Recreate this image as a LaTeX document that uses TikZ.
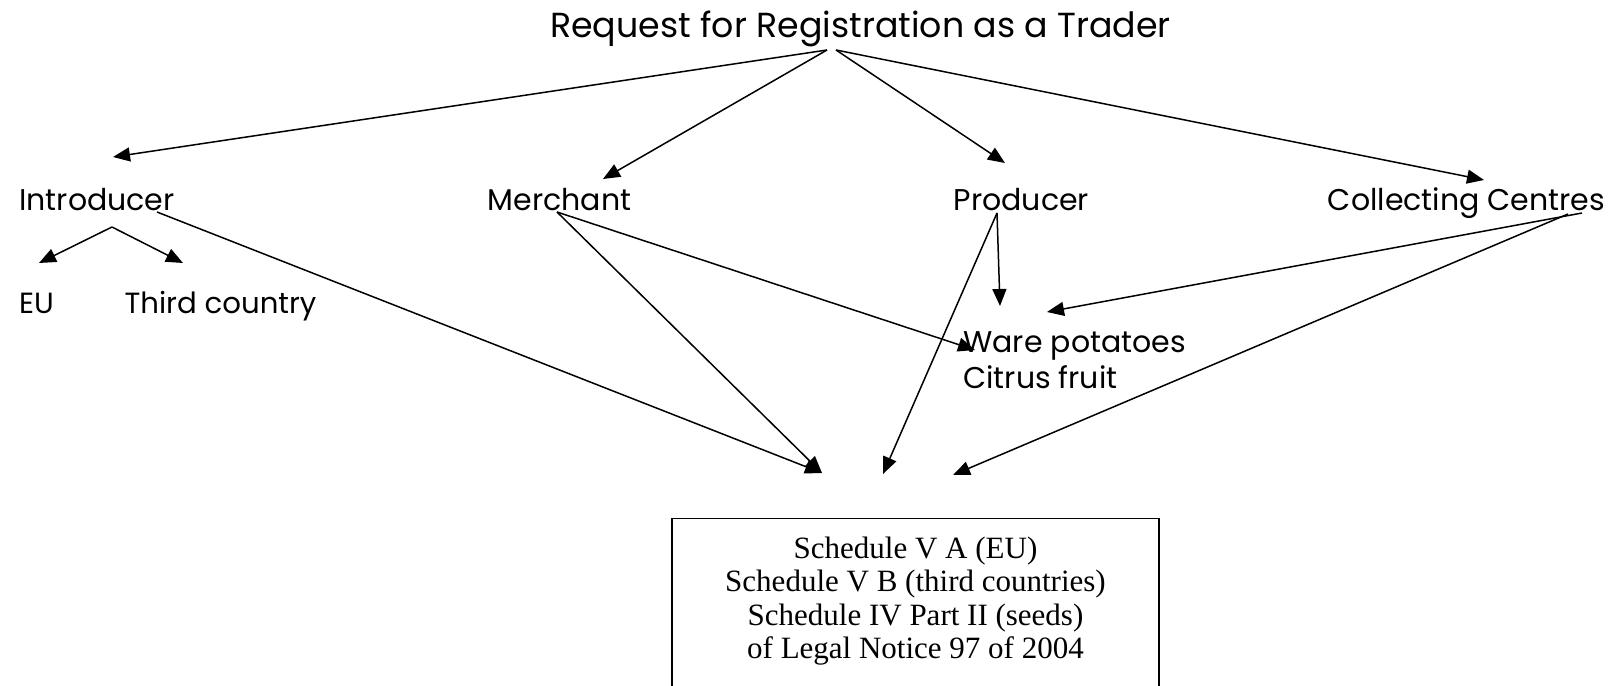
\documentclass[tikz,border=0pt]{standalone}
\usepackage{fontspec}
\setmainfont{Liberation Serif}
\newfontfamily\termfont{Poppins}
\usetikzlibrary{arrows.meta, positioning}

\begin{document}
\begin{tikzpicture}[
		x=0.5pt, y=-0.5pt,
		term/.style={font=\termfont\fontsize{15}{18}\selectfont, inner sep=0pt, anchor=base},
		arrow/.style={-{Triangle[length=8.5pt, width=7pt]}, line width=0.75pt}
		]
		\useasboundingbox (0,0) rectangle (1616,685);
		
		% Request
		\node[term, font=\termfont\fontsize{17.4}{20}\selectfont] (req) at (860.5,37) {Request for Registration as a Trader};
		
		% Traders
		\node[term] (intro) at (97,210) {Introducer};
		\node[term] (merch) at (559.5,210) {Merchant};
		\node[term] (prod) at (1021.5,210) {Producer};
		\node[term] (coll) at (1466.5,210) {Collecting Centres};
		
		% Origin of goods
		\node[term, font=\termfont\fontsize{14.6}{18}\selectfont] (eu) at (36.5,313) {EU};
		\node[term, font=\termfont\fontsize{14.6}{18}\selectfont] (third) at (220.5,313) {Third country};
		
		% Products
		\node[term, anchor=base west] (ware) at (963,352) {Ware potatoes};
		\node[term, anchor=base west] (citrus) at (963,388) {Citrus fruit};
		
		% Schedules
		\node (sched) [draw, line width=0.65pt, anchor=north, minimum width=243.5pt, inner ysep=9pt, text depth=40pt, align=center, font=\fontsize{15.5}{16.75}\selectfont] at (915.5,518) {Schedule V A (EU)\\Schedule V B (third countries)\\Schedule IV Part II (seeds)\\of Legal Notice 97 of 2004};
		
		% Arrow ends
		\coordinate (reqL) at (827,50);
		\coordinate (reqR) at (836,50);
		\coordinate (introIn) at (113,157);
		\coordinate (merchIn) at (603,179);
		\coordinate (prodIn) at (1005,163);
		\coordinate (collIn) at (1484,180);
		\coordinate (introOut) at (157,212);
		\coordinate (introFork) at (112,227);
		\coordinate (euIn) at (39,263);
		\coordinate (thirdIn) at (183,263);
		\coordinate (merchOut) at (557,212);
		\coordinate (prodOut) at (997,213);
		\coordinate (collOut) at (1582,213);
		\coordinate (collOutB) at (1568,214);
		\coordinate (wareInM) at (975,350);
		\coordinate (wareInP) at (1000,306);
		\coordinate (wareInC) at (1047,312);
		\coordinate (schedA) at (822,473);
		\coordinate (schedB) at (883,474);
		\coordinate (schedC) at (953,475);
		
		% Arrows
		\draw[arrow] (reqL) -- (introIn);
		\draw[arrow] (reqL) -- (merchIn);
		\draw[arrow] (reqR) -- (prodIn);
		\draw[arrow] (reqR) -- (collIn);
		
		\draw[arrow] (introFork) -- (euIn);
		\draw[arrow] (introFork) -- (thirdIn);
		
		\draw[arrow] (introOut) -- (schedA);
		\draw[arrow] (merchOut) -- (schedA);
		\draw[arrow] (merchOut) -- (wareInM);
		\draw[arrow] (prodOut) -- (wareInP);
		\draw[arrow] (prodOut) -- (schedB);
		\draw[arrow] (collOut) -- (wareInC);
		\draw[arrow] (collOutB) -- (schedC);
		
	\end{tikzpicture}
\end{document}
